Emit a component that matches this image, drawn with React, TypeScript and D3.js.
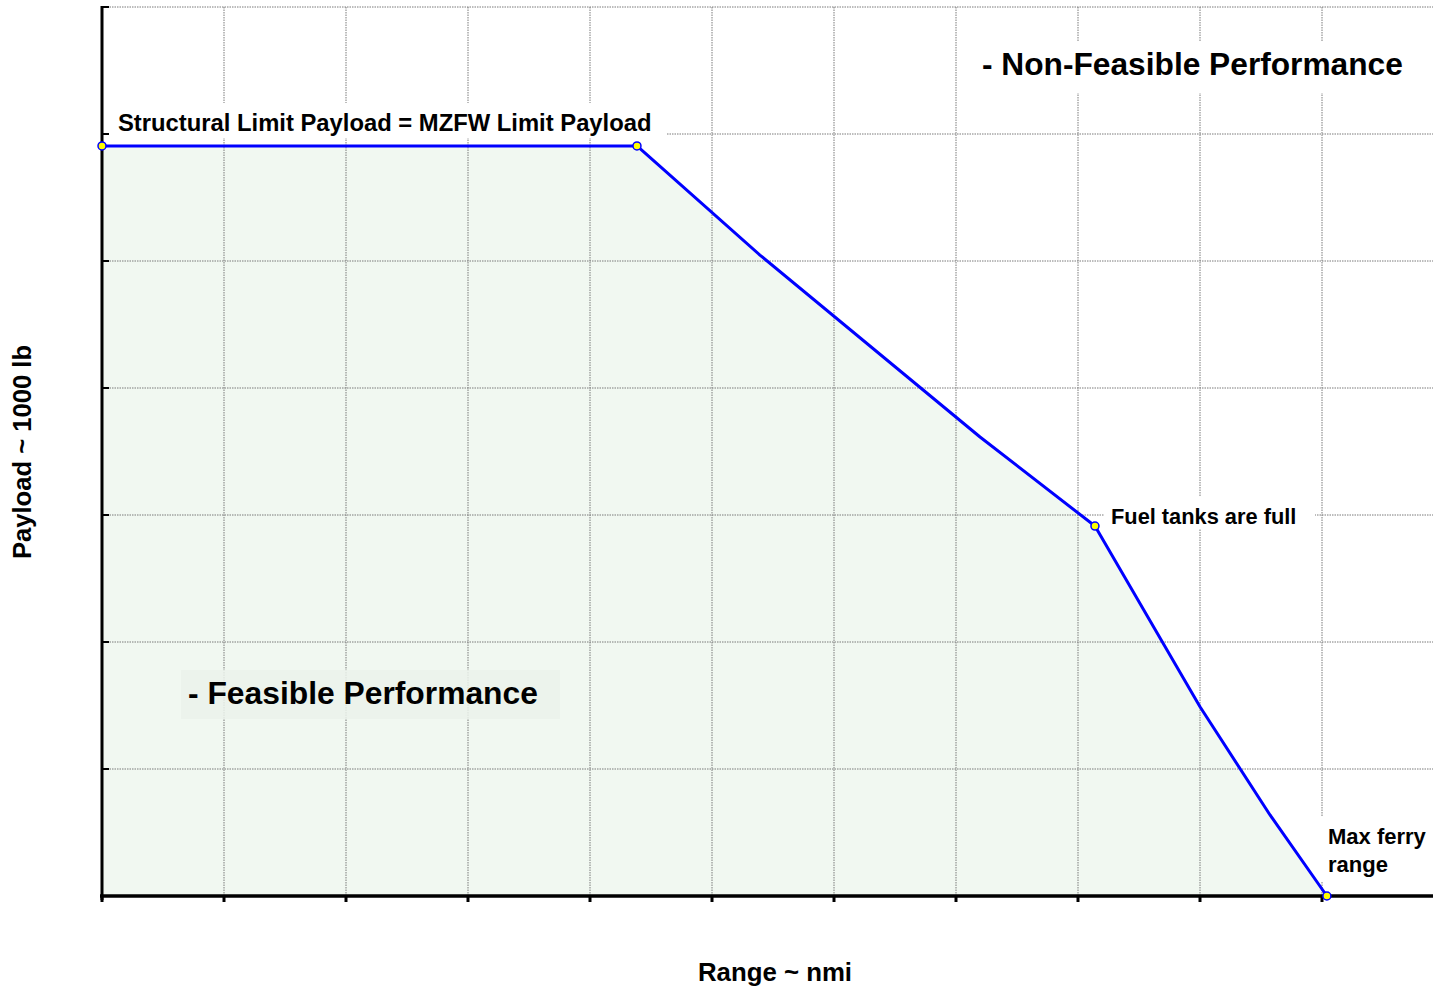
import React from "react";
import * as d3 from "d3";

// Payload-range envelope (range in grid units, payload in grid units; axis carries no numeric labels)
const rangeNmi = [0, 4.385, 5.393, 7.197, 8.139, 9.0, 9.574, 10.04];
const payloadK = [5.906, 5.906, 5.047, 3.614, 2.913, 1.49, 0.638, 0];
const keyPointIdx = [0, 1, 4, 7];
const xTicks = [0, 1, 2, 3, 4, 5, 6, 7, 8, 9, 10];
const yTicks = [0, 1, 2, 3, 4, 5, 6, 7];

const W = 1433;
const H = 988;
const FONT = "'Liberation Sans', Arial, sans-serif";

export default function App() {
  const x = d3.scaleLinear().domain([0, 11]).range([102, 1444]);
  const y = d3.scaleLinear().domain([0, 7]).range([896, 7]);
  const pts = rangeNmi.map((r, i) => [r, payloadK[i]] as [number, number]);
  const line = d3.line<[number, number]>().x((d) => x(d[0])).y((d) => y(d[1]));
  const area = d3
    .area<[number, number]>()
    .x((d) => x(d[0]))
    .y0(y(0))
    .y1((d) => y(d[1]));

  return (
    <svg
      width={W}
      height={H}
      style={{ position: "absolute", left: 0, top: 0, background: "#fff" }}
      fontFamily={FONT}
    >
      <rect x={0} y={0} width={W} height={H} fill="#fff" />
      <path d={area(pts) || ""} fill="#f1f8f1" />
      {/* grid */}
      <g stroke="#7a7a7a" strokeWidth={1} strokeDasharray="1.5,1" fill="none">
        {xTicks.slice(1).map((t) => (
          <line key={"vx" + t} x1={x(t)} x2={x(t)} y1={y(7)} y2={y(0)} />
        ))}
        {yTicks.slice(1).map((t) => (
          <line key={"hy" + t} x1={x(0)} x2={W} y1={y(t)} y2={y(t)} />
        ))}
      </g>
      {/* label backgrounds */}
      <rect x={106} y={103} width={560} height={35} fill="#fff" />
      <rect x={965} y={42} width={456} height={51} fill="#fff" />
      <rect x={1104} y={497} width={211} height={32} fill="#fff" />
      <rect x={1318} y={817} width={115} height={64} fill="#fff" />
      <rect x={181} y={670} width={379} height={49} fill="#ebf2eb" opacity={0.85} />
      {/* envelope line */}
      <path d={line(pts) || ""} fill="none" stroke="#0000ff" strokeWidth={3} strokeLinejoin="round" />
      {/* axes */}
      <g stroke="#000">
        <line x1={x(0)} x2={x(0)} y1={y(7) - 1} y2={y(0) + 4} strokeWidth={3} />
        <line x1={x(0) - 2} x2={W} y1={y(0)} y2={y(0)} strokeWidth={3.5} />
        {xTicks.map((t) => (
          <line key={"tx" + t} x1={x(t)} x2={x(t)} y1={y(0)} y2={y(0) + 6} strokeWidth={3} />
        ))}
        {yTicks.slice(1).map((t) => (
          <line key={"ty" + t} x1={x(0)} x2={x(0) + 7} y1={y(t)} y2={y(t)} strokeWidth={2} />
        ))}
      </g>
      {/* key markers */}
      {keyPointIdx.map((i) => (
        <circle
          key={"m" + i}
          cx={x(rangeNmi[i])}
          cy={y(payloadK[i])}
          r={4}
          fill="#ffff00"
          stroke="#0000ff"
          strokeWidth={1.5}
        />
      ))}
      {/* texts */}
      <g fontWeight="bold" fill="#000">
        <text x={118} y={131} fontSize={23.8}>
          Structural Limit Payload = MZFW Limit Payload
        </text>
        <text x={982} y={75} fontSize={31.7}>
          - Non-Feasible Performance
        </text>
        <text x={188} y={704} fontSize={31.8}>
          - Feasible Performance
        </text>
        <text x={1111} y={524} fontSize={21.8}>
          Fuel tanks are full
        </text>
        <text x={1328} y={844} fontSize={22}>
          Max ferry
        </text>
        <text x={1328} y={872} fontSize={22}>
          range
        </text>
        <text x={775} y={981} fontSize={25.8} textAnchor="middle">
          Range ~ nmi
        </text>
        <text
          transform="translate(31,452) rotate(-90)"
          fontSize={25.6}
          textAnchor="middle"
        >
          Payload ~ 1000 lb
        </text>
      </g>
    </svg>
  );
}
